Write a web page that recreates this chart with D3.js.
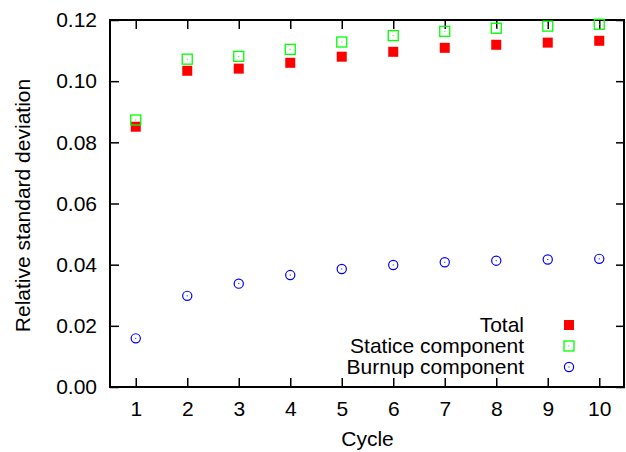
<!DOCTYPE html>
<html>
<head>
<meta charset="utf-8">
<script src="https://cdn.jsdelivr.net/npm/d3@7"></script>
<style>
  body { margin: 0; background: #fff; }
  text { font-family: "Liberation Sans", Arial, sans-serif; fill: #000; }
</style>
</head>
<body>
<div id="chart"></div>
<script>
// data
const cycles = [1, 2, 3, 4, 5, 6, 7, 8, 9, 10];
const total = [0.0851, 0.1034, 0.1041, 0.1060, 0.1080, 0.1096, 0.1109, 0.1119, 0.1126, 0.1132];
const staticPart = [0.0873, 0.1072, 0.1081, 0.1104, 0.1128, 0.1149, 0.1163, 0.1173, 0.1180, 0.1186];
const burnup = [0.0159, 0.0298, 0.0338, 0.0366, 0.0386, 0.0399, 0.0408, 0.0413, 0.0417, 0.0419];
const yTicks = [0, 0.02, 0.04, 0.06, 0.08, 0.10, 0.12];
const legendLabels = ["Total", "Statice component", "Burnup component"];

const width = 626, height = 452;
const margin = { top: 20, right: 1, bottom: 65, left: 110 };
const fs = 21;

const svg = d3.select("#chart").append("svg")
    .attr("width", width)
    .attr("height", height);

const x = d3.scaleLinear().domain([0.5, 10.5]).range([margin.left, width - margin.right]);
const y = d3.scaleLinear().domain([0, 0.12]).range([height - margin.bottom, margin.top]);

const tickLen = 9;

// axes (gnuplot style: inward ticks, mirrored)
const bottomAxis = svg.append("g")
    .attr("transform", `translate(0,${y(0)})`)
    .call(d3.axisBottom(x).tickValues(cycles).tickSize(-tickLen).tickPadding(14).tickFormat(d3.format("d")));
const topAxis = svg.append("g")
    .attr("transform", `translate(0,${y(0.12)})`)
    .call(d3.axisTop(x).tickValues(cycles).tickSize(-tickLen).tickFormat(""));
const leftAxis = svg.append("g")
    .attr("transform", `translate(${x(0.5)},0)`)
    .call(d3.axisLeft(y).tickValues(yTicks).tickSize(-tickLen).tickPadding(13).tickFormat(d3.format(".2f")));
const rightAxis = svg.append("g")
    .attr("transform", `translate(${x(10.5)},0)`)
    .call(d3.axisRight(y).tickValues(yTicks).tickSize(-tickLen).tickFormat(""));

[bottomAxis, topAxis, leftAxis, rightAxis].forEach(g => {
    g.select(".domain").remove();
    g.selectAll(".tick line").attr("stroke", "#000").attr("stroke-width", 1.5);
    g.selectAll("text").style("font-size", fs + "px").attr("font-family", null);
});

svg.append("rect")
    .attr("x", x(0.5))
    .attr("y", y(0.12))
    .attr("width", x(10.5) - x(0.5) - 1)
    .attr("height", y(0) - y(0.12))
    .attr("fill", "none")
    .attr("stroke", "#000")
    .attr("stroke-width", 2);

// axis titles
svg.append("text")
    .attr("x", (x(0.5) + x(10.5)) / 2)
    .attr("y", 446)
    .attr("text-anchor", "middle")
    .style("font-size", fs + "px")
    .text("Cycle");

svg.append("text")
    .attr("transform", `translate(30,${(y(0) + y(0.12)) / 2 + 2}) rotate(-90)`)
    .attr("text-anchor", "middle")
    .style("font-size", fs + "px")
    .text("Relative standard deviation");

// markers
const drawSquare = (g, cx, cy) => g.append("rect")
    .attr("x", cx - 5).attr("y", cy - 5)
    .attr("width", 10).attr("height", 10)
    .attr("fill", "#ff0000");

const drawOpenSquare = (g, cx, cy) => {
    g.append("rect")
        .attr("x", cx - 5).attr("y", cy - 5)
        .attr("width", 10).attr("height", 10)
        .attr("fill", "none")
        .attr("stroke", "#00ff00")
        .attr("stroke-width", 1.3);
    g.append("rect")
        .attr("x", cx - 0.5).attr("y", cy - 0.5)
        .attr("width", 1).attr("height", 1)
        .attr("fill", "#00ff00");
};

const drawCircle = (g, cx, cy) => {
    g.append("circle")
        .attr("cx", cx).attr("cy", cy).attr("r", 4.6)
        .attr("fill", "none")
        .attr("stroke", "#0000ff")
        .attr("stroke-width", 1.2);
    g.append("rect")
        .attr("x", cx - 0.5).attr("y", cy - 0.5)
        .attr("width", 1).attr("height", 1)
        .attr("fill", "#0000ff");
};

const pts = svg.append("g");
cycles.forEach((c, i) => {
    drawSquare(pts, x(c), y(total[i]));
    drawOpenSquare(pts, x(c), y(staticPart[i]));
    drawCircle(pts, x(c), y(burnup[i]));
});

// legend
const legend = svg.append("g");
const drawers = [drawSquare, drawOpenSquare, drawCircle];
legendLabels.forEach((lab, i) => {
    const ry = 325 + i * 21;
    legend.append("text")
        .attr("x", 524)
        .attr("y", ry)
        .attr("dy", "0.33em")
        .attr("text-anchor", "end")
        .style("font-size", fs + "px")
        .text(lab);
    drawers[i](legend, 569, ry);
});
</script>
</body>
</html>
